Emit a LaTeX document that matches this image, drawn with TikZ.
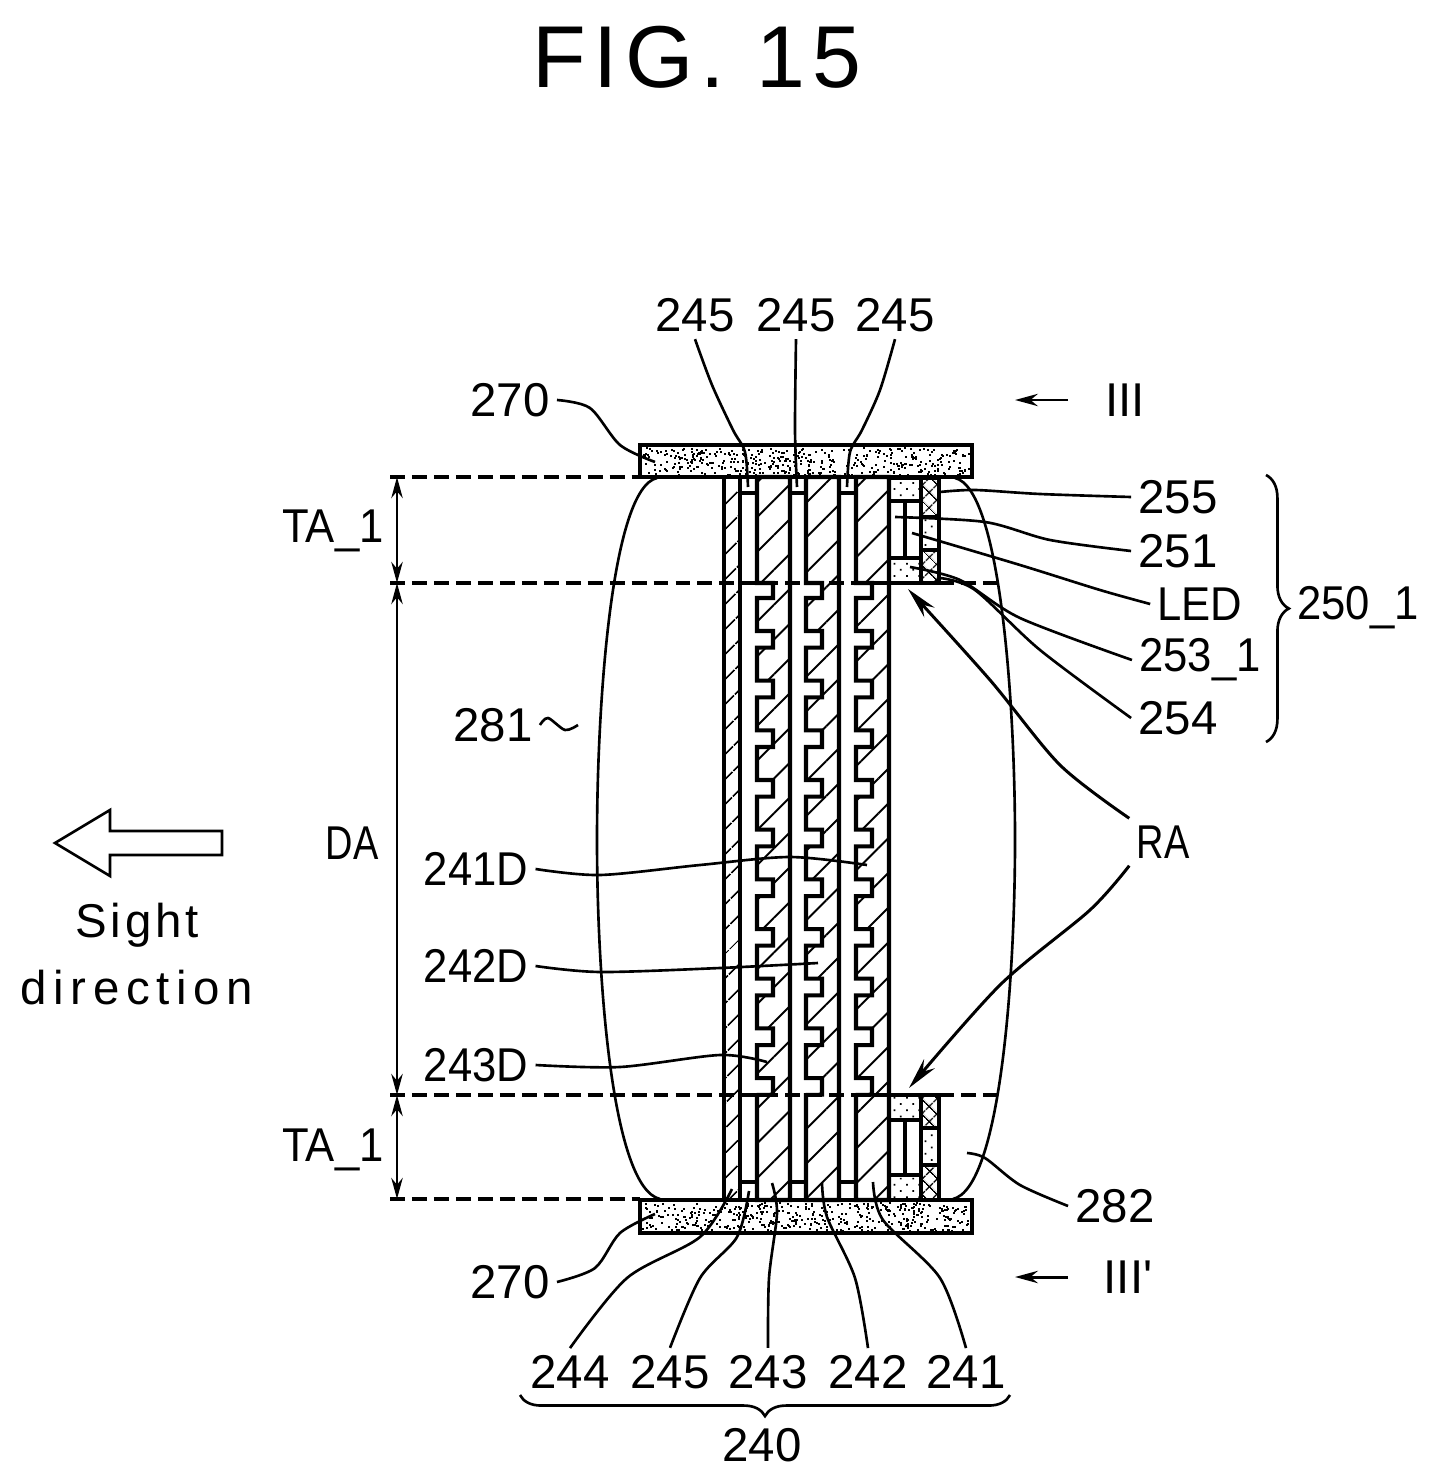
\documentclass[tikz,border=0pt]{standalone}
\usepackage{fontspec}
\setmainfont{Liberation Sans}
\newfontfamily\spaced[LetterSpace=14]{Liberation Sans}
\newfontfamily\titlefont[LetterSpace=8]{Liberation Sans}
\newfontfamily\midfont[FakeStretch=.92]{Liberation Sans}
\newfontfamily\narrowfont[FakeStretch=.8]{Liberation Sans}
\usetikzlibrary{arrows.meta, patterns.meta, decorations.pathreplacing}

\begin{document}
\begin{tikzpicture}[x=0.02cm,y=-0.02cm]
	\tikzstyle{txt} = [font=\fontsize{27}{30}\selectfont,inner sep=4pt]
	\tikzstyle{midtxt} = [font=\midfont\fontsize{27}{30}\selectfont,inner sep=4pt]
	\tikzstyle{narrowtxt} = [font=\narrowfont\fontsize{27}{30}\selectfont,inner sep=4pt]
	\tikzstyle{part} = [draw=black,line width=2.3pt]
	\tikzstyle{hatch} = [part,pattern={Lines[angle=45,distance=14pt,line width=1.1pt]}]
	\tikzstyle{finehatch} = [part,pattern={Lines[angle=45,distance=10.5pt,line width=1.1pt]}]
	\tikzstyle{cross} = [part,pattern={Hatch[angle=45,distance=6.5pt,line width=.9pt]}]
	\tikzstyle{dotted block} = [part,pattern={Dots[angle=45,distance=5pt,radius=.7pt]}]
	\tikzstyle{leader} = [draw=black,line width=1.5pt]
	\tikzstyle{level} = [draw=black,line width=1.9pt,dash pattern=on 8.5pt off 4pt]
	\tikzstyle{dim} = [draw=black,line width=1.5pt,{Stealth[length=12pt,width=6.5pt]}-{Stealth[length=12pt,width=6.5pt]}]
	\tikzstyle{pointer} = [draw=black,line width=1.7pt,-{Stealth[length=18pt,width=8pt]}]
	\tikzstyle{view} = [draw=black,line width=1.7pt,-{Stealth[length=13pt,width=7pt]}]
	\useasboundingbox (0,0) rectangle (1438,1483);

	\node[font=\titlefont\fontsize{50}{56}\selectfont,inner sep=0pt] (title) at (697,57) {FIG. 15};

	\pgfmathsetseed{15}
	\foreach \py in {447,1202} {
		\foreach \i in {1,...,430} {
			\fill ({642+326*rnd},{\py+28*rnd}) rectangle ++(2,2);
		}
	}
	\draw[part] (640,445) rectangle (972,477);
	\draw[part] (640,1200) rectangle (972,1233);

	\draw[finehatch] (724,477) rectangle (740,1200);
	\foreach \lx/\rx in {757/790,806/839,856/889} {
		\draw[hatch] (\rx,477) -- (\lx,477) -- (\lx,583) -- ({\lx+16},583) -- ({\lx+16},598)
			\foreach \i in {0,...,9} {
				-- (\lx,{598+49.67*\i}) -- (\lx,{631+49.67*\i}) -- ({\lx+16},{631+49.67*\i}) -- ({\lx+16},{647.67+49.67*\i})
			}
			-- (\lx,1095) -- (\lx,1200) -- (\rx,1200) -- cycle;
	}
	\foreach \lx/\rx in {740/757,790/806,839/856} {
		\draw[part] (\lx,477) rectangle (\rx,493);
		\draw[part] (\lx,1182) rectangle (\rx,1200);
	}

	\draw[dotted block] (889,478) rectangle (921,501);
	\draw[dotted block] (889,558) rectangle (921,583);
	\draw[cross] (921,478) rectangle (939,517);
	\draw[dotted block] (921,517) rectangle (939,550);
	\draw[cross] (921,550) rectangle (939,583);
	\draw[part] (905,501) -- (905,558);
	\draw[part] (889,501) -- (889,583);

	\draw[dotted block] (889,1095) rectangle (921,1120);
	\draw[dotted block] (889,1175) rectangle (921,1200);
	\draw[cross] (921,1095) rectangle (939,1128);
	\draw[dotted block] (921,1128) rectangle (939,1165);
	\draw[cross] (921,1165) rectangle (939,1200);
	\draw[part] (905,1120) -- (905,1175);

	\draw[leader] (657,478) .. controls (612,488) and (597,700) .. (597,840) .. controls (597,980) and (612,1188) .. (660,1199);
	\draw[leader] (955,478) .. controls (1000,488) and (1015,700) .. (1015,840) .. controls (1015,980) and (1000,1188) .. (953,1199);

	\coordinate (lvlA) at (390,477);
	\coordinate (lvlB) at (390,583);
	\coordinate (lvlC) at (390,1095);
	\coordinate (lvlD) at (390,1199);
	\coordinate (lvlBr) at (997,583);
	\coordinate (lvlCr) at (997,1095);
	\coordinate (plateT) at (640,477);
	\coordinate (plateB) at (640,1199);
	\draw[level] (lvlA) -- (plateT);
	\draw[level] (lvlB) -- (lvlBr);
	\draw[level] (lvlC) -- (lvlCr);
	\draw[level] (lvlD) -- (plateB);
	\coordinate (dimA) at (397,477);
	\coordinate (dimB) at (397,583);
	\coordinate (dimC) at (397,1095);
	\coordinate (dimD) at (397,1199);
	\draw[dim] (dimA) -- (dimB);
	\draw[dim] (dimB) -- (dimC);
	\draw[dim] (dimC) -- (dimD);

	\node[midtxt] (ta1) at (333,531) {TA\_1};
	\node[narrowtxt] (da) at (352,843) {DA};
	\node[midtxt] (ta2) at (333,1150) {TA\_1};

	\node[txt] (n245a) at (695,315) {245};
	\node[txt] (n245b) at (796,315) {245};
	\node[txt] (n245c) at (895,315) {245};
	\node[txt] (n270a) at (510,400) {270};
	\node[txt] (n270b) at (510,1282) {270};
	\node[txt] (n255) at (1178,497) {255};
	\node[txt] (n251) at (1178,551) {251};
	\node[midtxt] (led) at (1200,604) {LED};
	\node[midtxt] (n253) at (1200,660) {253\_1};
	\node[txt] (n254) at (1178,718) {254};
	\node[midtxt] (n250) at (1358,608) {250\_1};
	\node[txt] (n281) at (493,725) {281};
	\node[txt] (n282) at (1115,1206) {282};
	\node[narrowtxt] (ra) at (1163,842) {RA};
	\node[midtxt] (n241d) at (476,869) {241D};
	\node[midtxt] (n242d) at (476,966) {242D};
	\node[midtxt] (n243d) at (476,1065) {243D};
	\node[txt] (n244) at (570,1372) {244};
	\node[txt] (n245d) at (670,1372) {245};
	\node[txt] (n243) at (768,1372) {243};
	\node[txt] (n242) at (868,1372) {242};
	\node[txt] (n241) at (966,1372) {241};
	\node[txt] (n240) at (762,1445) {240};
	\node[txt] (viewa) at (1125,400) {III};
	\node[txt] (viewb) at (1128,1277) {III\textquotesingle};
	\node[font=\titlefont\fontsize{27}{30}\selectfont,inner sep=0pt] (sight) at (137,925) {Sight};
	\node[font=\spaced\fontsize{27}{30}\selectfont,inner sep=0pt] (direction) at (137,988) {direction};

	\coordinate (e270a) at (655,462);
	\coordinate (e270b) at (655,1214);
	\coordinate (e245a) at (748,487);
	\coordinate (e245b) at (797,487);
	\coordinate (e245c) at (847,487);
	\coordinate (e255) at (940,492);
	\coordinate (e251) at (895,517);
	\coordinate (eled) at (912,533);
	\coordinate (e253) at (910,567);
	\coordinate (e254) at (940,578);
	\coordinate (e241d) at (867,865);
	\coordinate (e242d) at (818,963);
	\coordinate (e243d) at (767,1062);
	\coordinate (e282) at (967,1153);
	\coordinate (e244) at (732,1189);
	\coordinate (e245d) at (749,1191);
	\coordinate (e243) at (772,1183);
	\coordinate (e242) at (822,1183);
	\coordinate (e241) at (873,1182);
	\coordinate (e281) at (578,725);
	\draw[leader] plot[smooth] coordinates {(n270a.east) (590,408) (620,445) (e270a)};
	\draw[leader] plot[smooth] coordinates {(n270b.east) (595,1268) (620,1233) (e270b)};
	\draw[leader] plot[smooth] coordinates {(n245a.south) (712,385) (733,430) (745,452) (e245a)};
	\draw[leader] plot[smooth] coordinates {(n245b.south) (795,430) (e245b)};
	\draw[leader] plot[smooth] coordinates {(n245c.south) (880,390) (862,430) (850,452) (e245c)};
	\draw[leader] plot[smooth] coordinates {(e255) (975,490) (1040,494) (n255.west)};
	\draw[leader] plot[smooth] coordinates {(e251) (985,522) (1050,540) (n251.west)};
	\draw[leader] plot[smooth] coordinates {(eled) (1020,565) (1100,590) (led.west)};
	\draw[leader] plot[smooth] coordinates {(e253) (960,580) (1020,618) (n253.west)};
	\draw[leader] plot[smooth] coordinates {(e254) (975,590) (1040,650) (n254.west)};
	\draw[leader] plot[smooth] coordinates {(n281.east) (548,718) (565,730) (e281)};
	\draw[leader] plot[smooth] coordinates {(e282) (985,1158) (1020,1185) (n282.west)};
	\draw[leader] plot[smooth] coordinates {(n241d.east) (600,875) (700,865) (790,857) (e241d)};
	\draw[leader] plot[smooth] coordinates {(n242d.east) (600,972) (720,968) (e242d)};
	\draw[leader] plot[smooth] coordinates {(n243d.east) (620,1067) (720,1055) (e243d)};
	\draw[leader] plot[smooth] coordinates {(n244.north) (627,1278) (700,1237) (e244)};
	\draw[leader] plot[smooth] coordinates {(n245d.north) (700,1278) (737,1237) (e245d)};
	\draw[leader] plot[smooth] coordinates {(n243.north) (769,1278) (777,1213) (e243)};
	\draw[leader] plot[smooth] coordinates {(n242.north) (855,1278) (827,1217) (e242)};
	\draw[leader] plot[smooth] coordinates {(n241.north) (940,1278) (883,1220) (e241)};

	\coordinate (tipU) at (908,589);
	\coordinate (tipL) at (909,1088);
	\draw[pointer] plot[smooth] coordinates {(ra.north west) (1060,765) (990,680) (tipU)};
	\draw[pointer] plot[smooth] coordinates {(ra.south west) (1090,910) (1000,985) (tipL)};

	\coordinate (viewaS) at (1068,400);
	\coordinate (viewaE) at (1015,400);
	\coordinate (viewbS) at (1068,1277);
	\coordinate (viewbE) at (1015,1277);
	\draw[view] (viewaS) -- (viewaE);
	\draw[view] (viewbS) -- (viewbE);

	\draw[draw=black,line width=1.5pt] (55,843) -- (110,810) -- (110,831) -- (222,831) -- (222,855) -- (110,855) -- (110,876) -- cycle;

	\coordinate (brTop) at (1266,475);
	\coordinate (brBot) at (1266,742);
	\coordinate (brL) at (520,1395);
	\coordinate (brR) at (1010,1395);
	\draw[leader,decorate,decoration={brace,amplitude=13pt}] (brTop) -- (brBot);
	\draw[leader,decorate,decoration={brace,mirror,amplitude=12pt}] (brL) -- (brR);
\end{tikzpicture}
\end{document}
